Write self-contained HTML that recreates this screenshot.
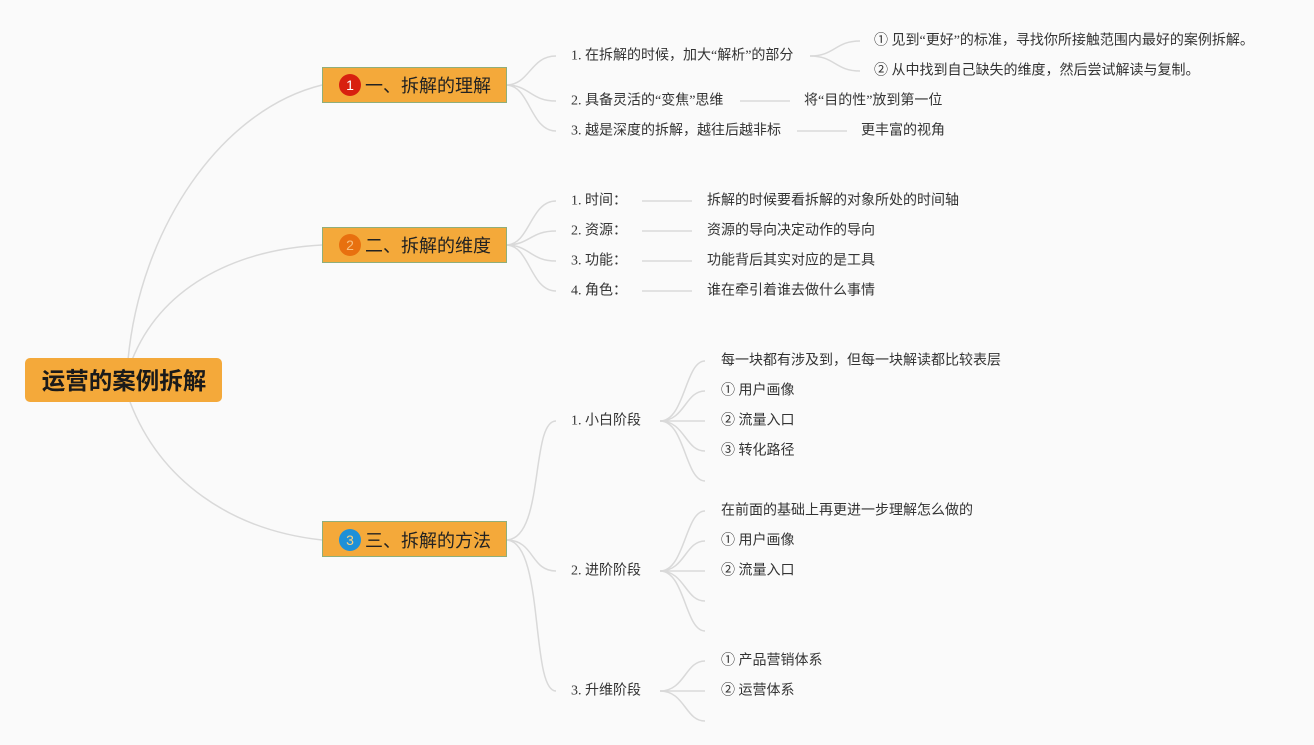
<!DOCTYPE html>
<html><head><meta charset="utf-8"><style>
html,body{margin:0;padding:0;background:#fafafa;}
svg{display:block;font-family:"Liberation Serif","Noto Sans CJK SC",sans-serif;}
.t{font-size:14px;fill:#333;dominant-baseline:central;}
.l{fill:none;stroke:#d9d9d9;stroke-width:1.5;}
.n{font-size:18px;fill:#222;dominant-baseline:central;font-family:"Liberation Sans","Noto Sans CJK SC",sans-serif;}
</style></head><body>
<svg width="1314" height="745" viewBox="0 0 1314 745">
<path class="l" d="M128,360 C140,230 220,110 322,85"/>
<path class="l" d="M132,360 C160,290 230,250 322,245"/>
<path class="l" d="M130,402 C160,480 230,530 322,540"/>
<path class="l" d="M506,85 C530,85 530,56 556,56"/>
<path class="l" d="M506,85 C530,85 530,101 556,101"/>
<path class="l" d="M506,85 C530,85 530,131 556,131"/>
<path class="l" d="M810,56 C835,56 835,41 860,41"/>
<path class="l" d="M810,56 C835,56 835,71 860,71"/>
<path class="l" d="M740,101 H790"/>
<path class="l" d="M797,131 H847"/>
<path class="l" d="M506,245 C530,245 530,201 556,201"/>
<path class="l" d="M506,245 C530,245 530,231 556,231"/>
<path class="l" d="M506,245 C530,245 530,261 556,261"/>
<path class="l" d="M506,245 C530,245 530,291 556,291"/>
<path class="l" d="M642,201 H692"/><path class="l" d="M642,231 H692"/>
<path class="l" d="M642,261 H692"/><path class="l" d="M642,291 H692"/>
<path class="l" d="M506,540 C545,540 530,421 556,421"/>
<path class="l" d="M506,540 C535,540 530,571 556,571"/>
<path class="l" d="M506,540 C545,540 530,691 556,691"/>
<g>
<path class="l" d="M660,421 C685,421 685,361 705,361"/>
<path class="l" d="M660,421 C685,421 685,391 705,391"/>
<path class="l" d="M660,421 H705"/>
<path class="l" d="M660,421 C685,421 685,451 705,451"/>
<path class="l" d="M660,421 C685,421 685,481 705,481"/>
<path class="l" d="M660,571 C685,571 685,511 705,511"/>
<path class="l" d="M660,571 C685,571 685,541 705,541"/>
<path class="l" d="M660,571 H705"/>
<path class="l" d="M660,571 C685,571 685,601 705,601"/>
<path class="l" d="M660,571 C685,571 685,631 705,631"/>
<path class="l" d="M660,691 C685,691 685,661 705,661"/>
<path class="l" d="M660,691 H705"/>
<path class="l" d="M660,691 C685,691 685,721 705,721"/>
</g>
<rect x="25" y="358" width="197" height="44" rx="5" fill="#f4a93a"/>
<text x="124" y="381" text-anchor="middle" style="font-size:23.5px;font-weight:bold;fill:#1a1a1a;dominant-baseline:central;font-family:'Liberation Sans','Noto Sans CJK SC',sans-serif">运营的案例拆解</text>
<rect x="322.5" y="67.5" width="184" height="35" fill="#f4a93a" stroke="#8fae7a"/>
<circle cx="350" cy="85" r="11" fill="#d8200f"/><text x="350" y="85" text-anchor="middle" style="font-size:14px;fill:#fff;dominant-baseline:central;font-family:'Liberation Sans',sans-serif">1</text>
<text class="n" x="365" y="86">一、拆解的理解</text>
<rect x="322.5" y="227.5" width="184" height="35" fill="#f4a93a" stroke="#8fae7a"/>
<circle cx="350" cy="245" r="11" fill="#e8700f"/><text x="350" y="245" text-anchor="middle" style="font-size:14px;fill:#f8c080;dominant-baseline:central;font-family:'Liberation Sans',sans-serif">2</text>
<text class="n" x="365" y="246">二、拆解的维度</text>
<rect x="322.5" y="521.5" width="184" height="35" fill="#f4a93a" stroke="#8fae7a"/>
<circle cx="350" cy="540" r="11" fill="#1e90d8"/><text x="350" y="540" text-anchor="middle" style="font-size:14px;fill:#f8d080;dominant-baseline:central;font-family:'Liberation Sans',sans-serif">3</text>
<text class="n" x="365" y="541">三、拆解的方法</text>
<text class="t" x="571" y="56">1. 在拆解的时候，加大“解析”的部分</text>
<text class="t" x="571" y="101">2. 具备灵活的“变焦”思维</text>
<text class="t" x="571" y="131">3. 越是深度的拆解，越往后越非标</text>
<text class="t" x="874" y="41">① 见到“更好”的标准，寻找你所接触范围内最好的案例拆解。</text>
<text class="t" x="874" y="71">② 从中找到自己缺失的维度，然后尝试解读与复制。</text>
<text class="t" x="804" y="101">将“目的性”放到第一位</text>
<text class="t" x="861" y="131">更丰富的视角</text>
<text class="t" x="571" y="201">1. 时间：</text>
<text class="t" x="571" y="231">2. 资源：</text>
<text class="t" x="571" y="261">3. 功能：</text>
<text class="t" x="571" y="291">4. 角色：</text>
<text class="t" x="707" y="201">拆解的时候要看拆解的对象所处的时间轴</text>
<text class="t" x="707" y="231">资源的导向决定动作的导向</text>
<text class="t" x="707" y="261">功能背后其实对应的是工具</text>
<text class="t" x="707" y="291">谁在牵引着谁去做什么事情</text>
<text class="t" x="571" y="421">1. 小白阶段</text>
<text class="t" x="571" y="571">2. 进阶阶段</text>
<text class="t" x="571" y="691">3. 升维阶段</text>
<text class="t" x="721" y="361">每一块都有涉及到，但每一块解读都比较表层</text>
<text class="t" x="721" y="391">① 用户画像</text>
<text class="t" x="721" y="421">② 流量入口</text>
<text class="t" x="721" y="451">③ 转化路径</text>
<text class="t" x="721" y="511">在前面的基础上再更进一步理解怎么做的</text>
<text class="t" x="721" y="541">① 用户画像</text>
<text class="t" x="721" y="571">② 流量入口</text>
<text class="t" x="721" y="661">① 产品营销体系</text>
<text class="t" x="721" y="691">② 运营体系</text>
</svg>
</body></html>
